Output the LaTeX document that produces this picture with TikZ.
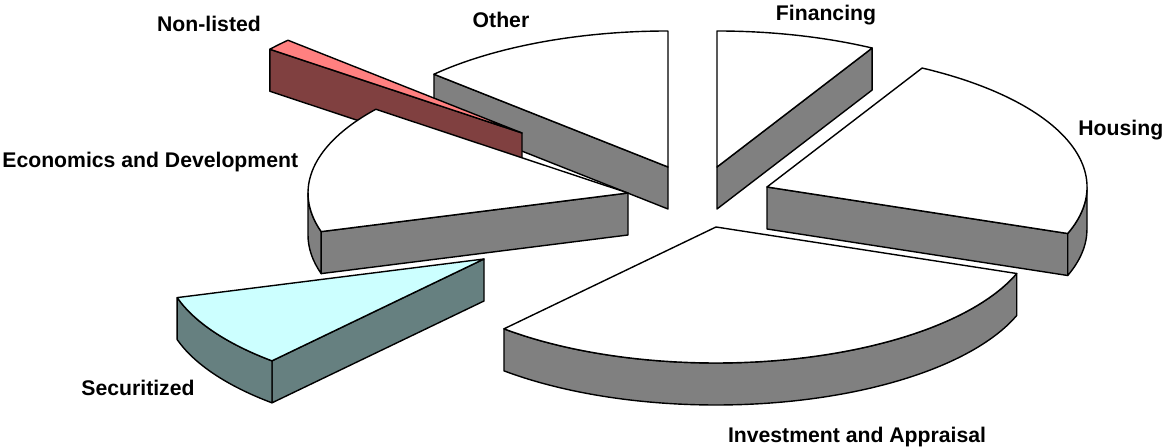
\documentclass[tikz,border=0pt]{standalone}
\usepackage{fontspec}
\setmainfont{Liberation Sans}
\usetikzlibrary{calc}

\definecolor{sidegray}{RGB}{128,128,128}
\definecolor{pinktop}{RGB}{255,128,128}
\definecolor{redside}{RGB}{128,64,64}
\definecolor{cyantop}{RGB}{204,255,255}
\definecolor{tealside}{RGB}{102,128,128}

% Exploded 3D pie: ellipse radii 320 x 136, slab depth 42 (all in px units)
% top face of a wedge: apex, start angle, end angle, fill
\newcommand{\wedgetop}[4]{%
  \filldraw[face,fill=#4] (#1) -- ++(#2:320 and 136)
    arc[start angle=#2,end angle=#3,x radius=320,y radius=136] -- cycle;}
% flat cut face along one radius: apex, angle, fill
\newcommand{\wedgecut}[3]{%
  \filldraw[face,fill=#3] (#1) -- ++(#2:320 and 136) -- ++(0,-42)
    -- ($(#1)+(0,-42)$) -- cycle;}
% curved outer rim between two angles: apex, from, to, fill
\newcommand{\wedgerim}[4]{%
  \filldraw[face,fill=#4] (#1) ++(#2:320 and 136)
    arc[start angle=#2,end angle=#3,x radius=320,y radius=136] -- ++(0,-42)
    arc[start angle=#3,end angle=#2,x radius=320,y radius=136] -- cycle;}

\begin{document}
\begin{tikzpicture}[x=0.5pt,y=0.5pt,
  face/.style={draw=black,line width=0.7pt,line join=round},
  lbl/.style={font=\fontsize{10.6}{12}\selectfont\bfseries,inner sep=0pt}]
\useasboundingbox (0,0) rectangle (1162,448);

% wedge apexes
\coordinate (oth) at (668,281);
\coordinate (fin) at (717,281);
\coordinate (nl)  at (522,315);
\coordinate (hou) at (767,261);
\coordinate (eco) at (628,255);
\coordinate (sec) at (484,189);
\coordinate (inv) at (716,221);

% Other
\wedgecut{oth}{137}{sidegray}
\wedgetop{oth}{90}{137}{white}
% Financing
\wedgecut{fin}{61}{sidegray}
\wedgetop{fin}{61}{90}{white}
% Non-listed
\wedgecut{nl}{142}{redside}
\wedgetop{nl}{137}{142}{pinktop}
% Housing
\wedgecut{hou}{-20}{sidegray}
\wedgerim{hou}{-20}{0}{sidegray}
\wedgetop{hou}{-20}{61}{white}
% Economics and Development
\wedgecut{eco}{196.5}{sidegray}
\wedgerim{eco}{180}{196.5}{sidegray}
\wedgetop{eco}{142}{196.5}{white}
% Securitized
\wedgecut{sec}{228.5}{tealside}
\wedgerim{sec}{196.5}{228.5}{tealside}
\wedgetop{sec}{196.5}{228.5}{cyantop}
% Investment and Appraisal
\wedgerim{inv}{228.5}{340}{sidegray}
\wedgetop{inv}{228.5}{340}{white}

% labels
\node[lbl,anchor=base] (lnl) at (209,416) {Non-listed};
\node[lbl,anchor=base] (loth) at (501,420) {Other};
\node[lbl,anchor=base] (lfin) at (826,427) {Financing};
\node[lbl,anchor=base west] (lhou) at (1078,312) {Housing};
\node[lbl,anchor=base west] (leco) at (2,280) {Economics and Development};
\node[lbl,anchor=base] (lsec) at (138,52) {Securitized};
\node[lbl,anchor=base] (linv) at (857,5) {Investment and Appraisal};
\end{tikzpicture}
\end{document}
